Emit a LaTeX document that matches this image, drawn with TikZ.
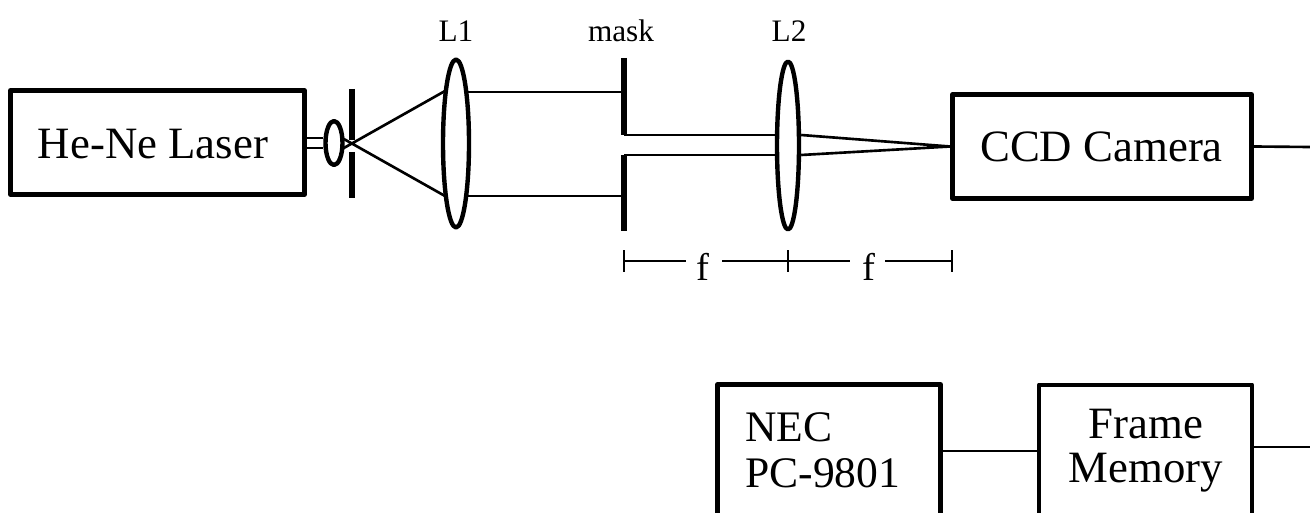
\documentclass[tikz,border=0pt]{standalone}
\usepackage{fontspec}
\setmainfont{Liberation Serif}
\usetikzlibrary{shapes.geometric}
\tikzset{
  thick box/.style={draw,line width=2.8pt,inner sep=0pt},
  lens/.style={draw,ellipse,line width=2.5pt,inner sep=0pt},
  bar/.style={line width=2.9pt},
  ray/.style={line width=1.5pt},
  tick/.style={line width=1pt},
  big/.style={font=\fontsize{25.5}{31}\selectfont,inner sep=0pt},
  small/.style={font=\fontsize{17.8}{21}\selectfont,inner sep=0pt}
}
\begin{document}
\begin{tikzpicture}[x=0.02cm,y=-0.02cm,line join=round,line cap=butt]
\def\xmask{624} \def\xlens{788} \def\xccd{952}
\useasboundingbox (0,0) rectangle (1310,513);
\clip (0,0) rectangle (1310,513);
% boxes
\node[thick box,minimum width=5.88cm,minimum height=2.08cm] (laser) at (157.5,142.5) {};
\node[big] at (153,144) {He-Ne Laser};
\node[thick box,minimum width=5.98cm,minimum height=2.08cm] (ccd) at (1102,146.5) {};
\node[big] at (1101.5,147) {CCD Camera};
\node[thick box,minimum width=4.46cm,minimum height=3.5cm] (nec) at (829,472) {};
\node[big,font=\fontsize{24.8}{26}\selectfont,align=left,anchor=west] at (745,450.5) {NEC\\PC-9801};
\node[thick box,line width=2.3pt,minimum width=4.26cm,minimum height=3.5cm] (frame) at (1145.5,472) {};
\node[big,font=\fontsize{25.5}{25}\selectfont,align=center] at (1146,451) {Frame\\Memory};
% lenses
\node[lens,minimum width=0.34cm,minimum height=0.88cm] (ls) at (334,143) {};
\node[lens,minimum width=0.52cm,minimum height=3.36cm] (lone) at (456,143.5) {};
\node[lens,minimum width=0.44cm,minimum height=3.36cm] (ltwo) at (\xlens,145.5) {};
\node[small] at (456,31) {L1};
\node[small] at (621,31) {mask};
\node[small] at (789,31) {L2};
% pinhole
\draw[bar] (352,89)--(352,140) (352,152)--(352,198);
% mask
\coordinate (ma) at (\xmask,92);
\coordinate (mb) at (\xmask,135);
\coordinate (mc) at (\xmask,155);
\coordinate (md) at (\xmask,196);
\draw[bar] (\xmask,58)--(mb) (mc)--(\xmask,231);
% beam
\draw[ray] (laser.east |- 0,138)--(ls.west |- 0,138);
\draw[ray] (laser.east |- 0,148)--(ls.west |- 0,148);
\coordinate (aa) at (343,138.5);
\coordinate (ab) at (343,148.5);
\coordinate (ba) at (445,91);
\coordinate (bb) at (445,196);
\draw[ray] (ab)--(ba) (aa)--(bb);
\draw[ray] (467,92)--(ma) (467,196)--(md);
\draw[ray] (mb)--(ltwo.west |- mb) (mc)--(ltwo.west |- mc);
\coordinate (focus) at (ccd.west);
\draw[ray] (ltwo.east |- mb)--(focus) (ltwo.east |- mc)--(focus);
% outputs
\coordinate (ea) at (1310,147);
\coordinate (eb) at (1310,447);
\draw[ray] (ccd.east)--(ea);
\draw[ray] (nec.east |- 0,451)--(frame.west |- 0,451);
\draw[ray] (frame.east |- eb)--(eb);
% f marks
\def\yf{261}
\draw[tick] (\xmask,250)--(\xmask,272) (\xlens,250)--(\xlens,272) (\xccd,250)--(\xccd,272);
\node[small,font=\fontsize{22}{26}\selectfont] (fa) at (703,267) {f};
\node[small,font=\fontsize{22}{26}\selectfont] (fb) at (869,267) {f};
\draw[ray,line width=1.2pt] (\xmask,\yf)--(686,\yf) (722,\yf)--(\xlens,\yf)--(850,\yf) (885,\yf)--(\xccd,\yf);
\end{tikzpicture}
\end{document}
